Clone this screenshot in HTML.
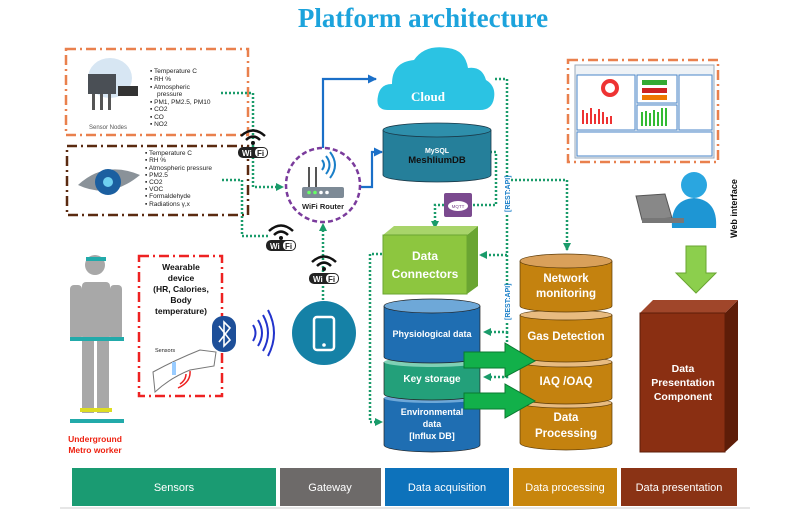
<!DOCTYPE html>
<html><head><meta charset="utf-8"><style>
body{margin:0;background:#fff;}
svg{display:block;font-family:"Liberation Sans",sans-serif;}
</style></head><body>
<svg width="811" height="519" viewBox="0 0 811 519" xmlns="http://www.w3.org/2000/svg">
<defs>
<marker id="ah" markerUnits="userSpaceOnUse" markerWidth="8" markerHeight="8" refX="7" refY="4" orient="auto"><path d="M0,0L8,4L0,8z" fill="#1a9b6a"/></marker>
<marker id="bh" markerUnits="userSpaceOnUse" markerWidth="9" markerHeight="9" refX="8" refY="4.5" orient="auto"><path d="M0,0L9,4.5L0,9z" fill="#1a6fc8"/></marker>
</defs>
<text x="423" y="27" text-anchor="middle" font-family="Liberation Serif,serif" font-weight="bold" font-size="27" fill="#1ca3dc">Platform architecture</text>

<!-- sensor boxes -->
<rect x="66" y="49" width="182" height="86" fill="none" stroke="#e9804d" stroke-width="2.5" stroke-dasharray="10,4,2,4"/>
<rect x="67" y="146" width="181" height="69" fill="none" stroke="#5a2a10" stroke-width="2.5" stroke-dasharray="10,4,2,4"/>
<ellipse cx="110" cy="78" rx="22" ry="20" fill="#d7e6f3"/>
<rect x="88" y="74" width="28" height="20" fill="#4a4f55"/>
<rect x="92" y="94" width="3" height="16" fill="#555"/><rect x="100" y="94" width="3" height="16" fill="#555"/><rect x="108" y="94" width="3" height="16" fill="#555"/>
<rect x="118" y="86" width="20" height="10" fill="#333"/>
<text x="108" y="129" font-size="6" fill="#555" text-anchor="middle">Sensor Nodes</text>
<g font-size="6.5" fill="#222">
<text x="150" y="73">▪ Temperature C</text><text x="150" y="81">▪ RH %</text><text x="150" y="89">▪ Atmospheric</text><text x="157" y="96">pressure</text>
<text x="150" y="104">▪ PM1, PM2.5, PM10</text><text x="150" y="111">▪ CO2</text><text x="150" y="119">▪ CO</text><text x="150" y="126">▪ NO2</text>
<text x="145" y="155">▪ Temperature C</text><text x="145" y="162">▪ RH %</text><text x="145" y="170">▪ Atmospheric pressure</text><text x="145" y="177">▪ PM2.5</text>
<text x="145" y="184">▪ CO2</text><text x="145" y="191">▪ VOC</text><text x="145" y="198">▪ Formaldehyde</text><text x="145" y="206">▪ Radiations γ,x</text>
</g>
<path d="M78,185 Q105,160 140,175 Q110,200 78,185z" fill="#8a9299"/>
<circle cx="108" cy="182" r="13" fill="#1b5fa0"/><circle cx="108" cy="182" r="5" fill="#6fd0f0"/>

<!-- connectors -->
<g fill="none" stroke="#1a9b6a" stroke-width="2.5" stroke-dasharray="2,2">
<path d="M221,93 H253 V187 H283" marker-end="url(#ah)"/>
<path d="M222,180 H242 V236 H270"/>
<path d="M323,300 V224" marker-end="url(#ah)"/>
<path d="M495,79 H507 V255 H480" marker-end="url(#ah)"/>
<path d="M507,180 H567 V250" marker-end="url(#ah)"/>
<path d="M490,152 H496 V205 H473"/>
<path d="M444,205 H435 V228" marker-end="url(#ah)"/>
<path d="M382,254 H370 V422 H382" marker-end="url(#ah)"/>
<path d="M507,255 V332 H484" marker-end="url(#ah)"/>
<path d="M507,332 V377 H484" marker-end="url(#ah)"/>
</g>
<g fill="none" stroke="#1a6fc8" stroke-width="2.2">
<path d="M323,148 V79 H376" marker-end="url(#bh)"/>
<path d="M360,187 H372 V152 H382" marker-end="url(#bh)"/>
</g>
<rect x="504" y="178" width="7" height="36" fill="#fff"/>
<rect x="504" y="285" width="7" height="36" fill="#fff"/>
<text x="510" y="212" font-size="7" fill="#1a7fc8" font-weight="bold" transform="rotate(-90 510 212)">[REST:API]</text>
<text x="510" y="320" font-size="7" fill="#1a7fc8" font-weight="bold" transform="rotate(-90 510 320)">[REST:API]</text>

<!-- wifi badges -->
<g font-size="8" font-weight="bold">
<g transform="translate(238,128)"><path d="M3,8 Q15,-3 27,8" stroke="#111" stroke-width="2.5" fill="none"/><path d="M8,12 Q15,5 22,12" stroke="#111" stroke-width="2.5" fill="none"/><circle cx="15" cy="15" r="2" fill="#111"/><rect x="0" y="19" width="30" height="11" rx="5" fill="#222"/><text x="4" y="28" fill="#fff">Wi</text><rect x="17" y="20" width="12" height="9" rx="4" fill="#fff"/><text x="19" y="28" fill="#222">Fi</text></g>
<g transform="translate(266,223)"><path d="M3,8 Q15,-3 27,8" stroke="#111" stroke-width="2.5" fill="none"/><path d="M8,12 Q15,5 22,12" stroke="#111" stroke-width="2.5" fill="none"/><circle cx="15" cy="15" r="2" fill="#111"/><rect x="0" y="17" width="30" height="11" rx="5" fill="#222"/><text x="4" y="26" fill="#fff">Wi</text><rect x="17" y="18" width="12" height="9" rx="4" fill="#fff"/><text x="19" y="26" fill="#222">Fi</text></g>
<g transform="translate(309,254)"><path d="M3,8 Q15,-3 27,8" stroke="#111" stroke-width="2.5" fill="none"/><path d="M8,12 Q15,5 22,12" stroke="#111" stroke-width="2.5" fill="none"/><circle cx="15" cy="15" r="2" fill="#111"/><rect x="0" y="19" width="30" height="11" rx="5" fill="#222"/><text x="4" y="28" fill="#fff">Wi</text><rect x="17" y="20" width="12" height="9" rx="4" fill="#fff"/><text x="19" y="28" fill="#222">Fi</text></g>
</g>

<!-- router -->
<circle cx="323" cy="185" r="37" fill="#fff" stroke="#7a3b9c" stroke-width="2.5" stroke-dasharray="5,3"/>
<rect x="302" y="187" width="42" height="11" rx="2" fill="#7d8a96"/>
<circle cx="309" cy="192.5" r="1.8" fill="#6f6"/><circle cx="315" cy="192.5" r="1.8" fill="#6f6"/><circle cx="321" cy="192.5" r="1.8" fill="#fff"/><circle cx="327" cy="192.5" r="1.8" fill="#fff"/>
<line x1="309" y1="187" x2="309" y2="167" stroke="#555" stroke-width="2"/>
<line x1="316" y1="187" x2="316" y2="167" stroke="#555" stroke-width="2"/>
<path d="M322,170 Q326,165 322,160 M326,174 Q333,165 326,156 M330,178 Q340,165 330,152" stroke="#1a7fc8" stroke-width="2" fill="none"/>
<text x="323" y="209" font-size="7.5" font-weight="bold" text-anchor="middle" fill="#222">WiFi Router</text>

<!-- cloud -->
<path d="M388,110 Q375,110 378,96 Q380,84 392,84 Q392,62 414,60 Q425,44 448,48 Q465,50 468,68 Q482,66 486,80 Q496,86 494,98 Q492,110 480,110 Z" fill="#2bc3e3"/>
<text x="411" y="101" font-size="13" font-weight="bold" fill="#fff" font-family="Liberation Serif,serif">Cloud</text>

<!-- MeshliumDB -->
<path d="M383,130 V175 A54,7 0 0 0 491,175 V130" fill="#257f9a" stroke="#1a3a4a" stroke-width=".8"/>
<ellipse cx="437" cy="130" rx="54" ry="7" fill="#2e8fab" stroke="#1a3a4a" stroke-width=".8"/>
<text x="437" y="153" font-size="7" font-weight="bold" text-anchor="middle" fill="#fff">MySQL</text>
<text x="437" y="163" font-size="9.5" font-weight="bold" text-anchor="middle" fill="#111">MeshliumDB</text>

<!-- MQTT -->
<rect x="444" y="193" width="28" height="24" rx="2" fill="#7b4a8f"/>
<ellipse cx="458" cy="206" rx="10" ry="5" fill="#fff"/>
<text x="458" y="208" font-size="4.5" text-anchor="middle" fill="#7b4a8f">MQTT</text>

<!-- Data connectors -->
<path d="M467,235 L478,226 V286 L467,294z" fill="#6aa532"/>
<path d="M383,235 L394,226 H478 L467,235z" fill="#a8d46a"/>
<rect x="383" y="235" width="84" height="59" fill="#8dc63f" stroke="#6aa532"/>
<text x="425" y="260" font-size="12" font-weight="bold" text-anchor="middle" fill="#fff">Data</text>
<text x="425" y="278" font-size="12" font-weight="bold" text-anchor="middle" fill="#fff">Connectors</text>

<!-- blue stack -->
<path d="M384,398 V445 A48,7 0 0 0 480,445 V398" fill="#1f6eb2" stroke="#222" stroke-width=".7"/>
<ellipse cx="432" cy="398" rx="48" ry="5" fill="#6ea8d8"/>
<path d="M384,362 V394 A48,6 0 0 0 480,394 V362" fill="#23a07a" stroke="#222" stroke-width=".7"/>
<ellipse cx="432" cy="362" rx="48" ry="5" fill="#7fd0b5"/>
<path d="M384,306 V357 A48,6 0 0 0 480,357 V306" fill="#1f6eb2" stroke="#222" stroke-width=".7"/>
<ellipse cx="432" cy="306" rx="48" ry="7" fill="#6ea8d8" stroke="#222" stroke-width=".7"/>
<g font-weight="bold" fill="#fff" text-anchor="middle">
<text x="432" y="337" font-size="9">Physiological data</text>
<text x="432" y="382" font-size="10">Key storage</text>
<text x="432" y="415" font-size="9">Environmental</text>
<text x="432" y="427" font-size="9">data</text>
<text x="432" y="439" font-size="9">[Influx DB]</text>
</g>

<!-- orange stack -->
<g stroke="#5a3a08" stroke-width=".7">
<path d="M520,403 V443 A46,7 0 0 0 612,443 V403" fill="#c4820f"/>
<ellipse cx="566" cy="403" rx="46" ry="5" fill="#e8bb80"/>
<path d="M520,362 V398 A46,6 0 0 0 612,398 V362" fill="#c4820f"/>
<ellipse cx="566" cy="362" rx="46" ry="5" fill="#e8bb80"/>
<path d="M520,315 V356 A46,6 0 0 0 612,356 V315" fill="#c4820f"/>
<ellipse cx="566" cy="315" rx="46" ry="5" fill="#e8bb80"/>
<path d="M520,261 V306 A46,6 0 0 0 612,306 V261" fill="#c4820f"/>
<ellipse cx="566" cy="261" rx="46" ry="7" fill="#d9a05a"/>
</g>
<g font-weight="bold" fill="#fff" text-anchor="middle" font-size="11.5">
<text x="566" y="282">Network</text><text x="566" y="297">monitoring</text>
<text x="566" y="340">Gas Detection</text>
<text x="566" y="385">IAQ /OAQ</text>
<text x="566" y="421">Data</text><text x="566" y="437">Processing</text>
</g>

<!-- green arrows -->
<path d="M464,352 H505 V343 L535,361 L505,377 V368 H464z" fill="#12b04a" stroke="#0a7a30"/>
<path d="M464,393 H505 V384 L535,401 L505,418 V409 H464z" fill="#12b04a" stroke="#0a7a30"/>

<!-- dashboard -->
<rect x="568" y="60" width="150" height="102" fill="none" stroke="#e9804d" stroke-width="2.5" stroke-dasharray="10,4,2,4"/>
<rect x="575" y="65" width="139" height="93" fill="#eef2f6" stroke="#9ab"/>
<rect x="577" y="75" width="58" height="55" fill="#fff" stroke="#4a86c8"/>
<rect x="637" y="75" width="40" height="28" fill="#fff" stroke="#4a86c8"/>
<rect x="637" y="105" width="40" height="25" fill="#fff" stroke="#4a86c8"/>
<rect x="679" y="75" width="33" height="55" fill="#fff" stroke="#4a86c8"/>
<rect x="577" y="132" width="135" height="24" fill="#fff" stroke="#4a86c8"/>
<circle cx="610" cy="88" r="7" fill="none" stroke="#e33" stroke-width="4"/>
<g fill="#e33"><rect x="582" y="110" width="2" height="14"/><rect x="586" y="113" width="2" height="11"/><rect x="590" y="108" width="2" height="16"/><rect x="594" y="114" width="2" height="10"/><rect x="598" y="109" width="2" height="15"/><rect x="602" y="112" width="2" height="12"/><rect x="606" y="117" width="2" height="7"/><rect x="610" y="116" width="2" height="8"/></g>
<g fill="#3b3"><rect x="641" y="112" width="2" height="14"/><rect x="645" y="111" width="2" height="15"/><rect x="649" y="113" width="2" height="13"/><rect x="653" y="110" width="2" height="16"/><rect x="657" y="112" width="2" height="14"/><rect x="661" y="108" width="2" height="18"/><rect x="665" y="108" width="2" height="18"/></g>
<rect x="642" y="80" width="25" height="5" fill="#3a3"/><rect x="642" y="88" width="25" height="5" fill="#c22"/><rect x="642" y="95" width="25" height="5" fill="#e70"/>

<!-- person with laptop -->
<circle cx="694" cy="185" r="13" fill="#2aa6e0"/>
<path d="M672,228 Q670,200 694,198 Q718,200 716,228z" fill="#1e96d4"/>
<path d="M636,196 L665,194 L672,218 L642,220z" fill="#888" stroke="#555"/>
<rect x="642" y="218" width="42" height="5" fill="#777"/>
<text x="737" y="238" font-size="9" font-weight="bold" fill="#111" transform="rotate(-90 737 238)">Web interface</text>

<!-- down arrow -->
<path d="M686,246 H706 V273 H716 L696,293 L676,273 H686z" fill="#8ccf4d" stroke="#6aa532"/>

<!-- presentation -->
<path d="M725,313 L738,300 V440 L725,452z" fill="#5e1d08"/>
<path d="M640,313 L653,300 H738 L725,313z" fill="#a0462a"/>
<rect x="640" y="313" width="85" height="139" fill="#8a2f12" stroke="#5e1d08"/>
<g font-weight="bold" fill="#fff" text-anchor="middle" font-size="10.5">
<text x="683" y="372">Data</text><text x="683" y="386">Presentation</text><text x="683" y="400">Component</text>
</g>

<!-- worker -->
<g fill="#a8a8a8">
<circle cx="95" cy="265" r="10"/>
<rect x="82" y="282" width="28" height="58" rx="4"/>
<rect x="70" y="285" width="12" height="55" rx="4"/>
<rect x="110" y="285" width="12" height="55" rx="4"/>
<rect x="82" y="338" width="12" height="75"/><rect x="97" y="338" width="12" height="75"/>
</g>
<rect x="86" y="257" width="20" height="4" fill="#2aa"/>
<rect x="70" y="337" width="54" height="4" fill="#2aa"/>
<rect x="80" y="408" width="32" height="4" fill="#dd2"/>
<rect x="70" y="419" width="54" height="4" fill="#2aa"/>
<text x="95" y="442" font-size="8.5" font-weight="bold" fill="#e21" text-anchor="middle">Underground</text>
<text x="95" y="453" font-size="8.5" font-weight="bold" fill="#e21" text-anchor="middle">Metro worker</text>

<!-- wearable -->
<rect x="139" y="256" width="83" height="140" fill="none" stroke="#e22" stroke-width="2.5" stroke-dasharray="10,4,2,4"/>
<g font-size="8.5" font-weight="bold" fill="#111" text-anchor="middle">
<text x="181" y="270">Wearable</text><text x="181" y="281">device</text><text x="181" y="292">(HR, Calories,</text><text x="181" y="303">Body</text><text x="181" y="314">temperature)</text>
</g>
<text x="155" y="352" font-size="5.5" fill="#222">Sensors</text>
<path d="M153,372 Q175,360 200,350 L216,352 L214,366 L190,370 Q170,378 155,392z" fill="#fff" stroke="#777"/>
<rect x="172" y="362" width="4" height="13" fill="#9cf"/>
<path d="M180,384 Q186,380 186,374 M178,388 Q191,382 190,371" stroke="#e22" stroke-width="1.5" fill="none"/>
<!-- bluetooth -->
<rect x="212" y="316" width="24" height="36" rx="11" fill="#1d4f99"/>
<path d="M219,326 L230,340 L224,346 V322 L230,328 L219,342" stroke="#fff" stroke-width="1.6" fill="none"/>
<g stroke="#2233cc" stroke-width="2" fill="none">
<path d="M253,325 Q258,333 253,341"/><path d="M258,320 Q266,333 258,346"/><path d="M263,315 Q273,333 263,351"/><path d="M268,310 Q280,333 268,356"/>
</g>
<!-- phone -->
<circle cx="324" cy="333" r="32" fill="#1581a6"/>
<rect x="314" y="317" width="20" height="33" rx="3" fill="none" stroke="#fff" stroke-width="2.5"/>
<circle cx="324" cy="345" r="1.8" fill="#fff"/>

<!-- legend -->
<g font-size="11" fill="#fff" text-anchor="middle">
<rect x="72" y="468" width="204" height="38" fill="#1a9b72"/><text x="174" y="491">Sensors</text>
<rect x="280" y="468" width="101" height="38" fill="#6d6a69"/><text x="330" y="491">Gateway</text>
<rect x="385" y="468" width="124" height="38" fill="#0d72bb"/><text x="447" y="491">Data acquisition</text>
<rect x="513" y="468" width="104" height="38" fill="#c8860d"/><text x="565" y="491">Data processing</text>
<rect x="621" y="468" width="116" height="38" fill="#8a3315"/><text x="679" y="491">Data presentation</text>
</g>
<line x1="60" y1="508" x2="750" y2="508" stroke="#ccc"/>
</svg>
</body></html>
